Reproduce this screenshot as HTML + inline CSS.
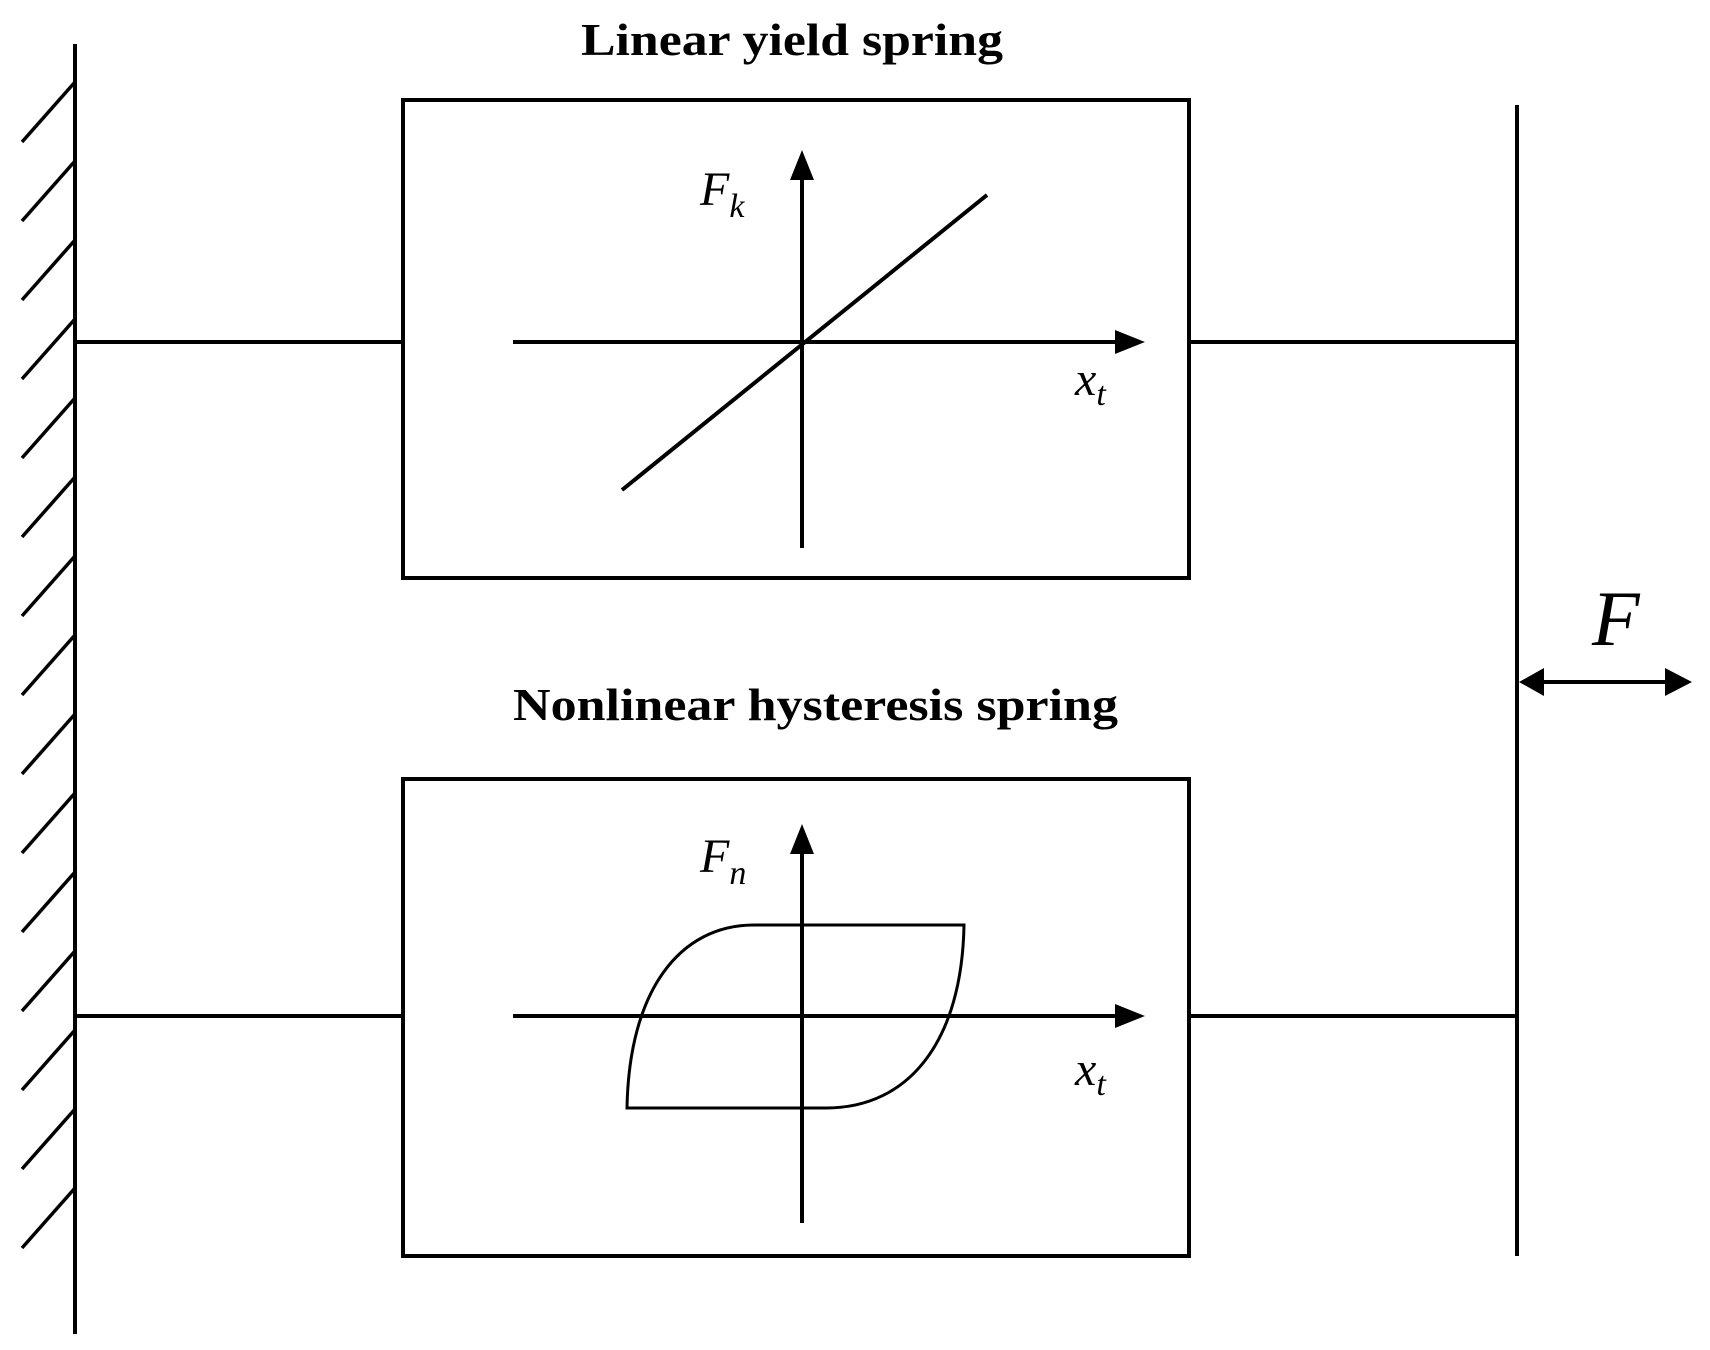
<!DOCTYPE html>
<html><head><meta charset="utf-8"><style>
html,body{margin:0;padding:0;background:#fff;}
svg{display:block;}
</style></head><body>
<svg width="1710" height="1350" viewBox="0 0 1710 1350" xmlns="http://www.w3.org/2000/svg">
<g stroke="#000" stroke-width="4" fill="none">
<line x1="75" y1="44" x2="75" y2="1334"/>
<g stroke-width="3.5">
<line x1="75" y1="82" x2="22" y2="142"/>
<line x1="75" y1="161" x2="22" y2="221"/>
<line x1="75" y1="240" x2="22" y2="300"/>
<line x1="75" y1="319" x2="22" y2="379"/>
<line x1="75" y1="398" x2="22" y2="458"/>
<line x1="75" y1="477" x2="22" y2="537"/>
<line x1="75" y1="556" x2="22" y2="616"/>
<line x1="75" y1="635" x2="22" y2="695"/>
<line x1="75" y1="714" x2="22" y2="774"/>
<line x1="75" y1="793" x2="22" y2="853"/>
<line x1="75" y1="872" x2="22" y2="932"/>
<line x1="75" y1="951" x2="22" y2="1011"/>
<line x1="75" y1="1030" x2="22" y2="1090"/>
<line x1="75" y1="1109" x2="22" y2="1169"/>
<line x1="75" y1="1188" x2="22" y2="1248"/>
</g>
<rect x="403" y="100" width="786" height="478"/>
<rect x="403" y="779" width="786" height="477"/>
<line x1="75" y1="342" x2="403" y2="342"/>
<line x1="1189" y1="342" x2="1517" y2="342"/>
<line x1="75" y1="1016" x2="403" y2="1016"/>
<line x1="1189" y1="1016" x2="1517" y2="1016"/>
<line x1="1517" y1="105" x2="1517" y2="1256"/>
<line x1="513" y1="342" x2="1120" y2="342"/>
<line x1="802" y1="548" x2="802" y2="175"/>
<line x1="622" y1="490" x2="987" y2="195"/>
<line x1="513" y1="1016" x2="1120" y2="1016"/>
<line x1="802" y1="1223" x2="802" y2="850"/>
<path stroke-width="3" d="M754 925 L964 925 C962 1040 910 1108 826 1108 L627 1108 C629 990 680 925 754 925 Z"/>
<line x1="1540" y1="682" x2="1670" y2="682"/>
</g>
<g fill="#000">
<polygon points="1145,342 1115,330 1115,354"/>
<polygon points="802,150 790,180 814,180"/>
<polygon points="1145,1016 1115,1004 1115,1028"/>
<polygon points="802,824 790,854 814,854"/>
<polygon points="1519,682 1544,668 1544,696"/>
<polygon points="1692,682 1665,668 1665,696"/>
</g>
<g font-family="Liberation Serif, serif" fill="#000">
<text x="581" y="55" font-size="46" font-weight="bold" textLength="422" lengthAdjust="spacingAndGlyphs">Linear yield spring</text>
<text x="513" y="720" font-size="46" font-weight="bold" textLength="605" lengthAdjust="spacingAndGlyphs">Nonlinear hysteresis spring</text>
<text x="700" y="205" font-size="48" font-style="italic">F<tspan font-size="34" dy="12">k</tspan></text>
<text x="1075" y="395" font-size="48" font-style="italic">x<tspan font-size="34" dy="10">t</tspan></text>
<text x="700" y="872" font-size="48" font-style="italic">F<tspan font-size="34" dy="12">n</tspan></text>
<text x="1075" y="1085" font-size="48" font-style="italic">x<tspan font-size="34" dy="10">t</tspan></text>
<text x="1592" y="645" font-size="78" font-style="italic">F</text>
</g>
</svg>
</body></html>
